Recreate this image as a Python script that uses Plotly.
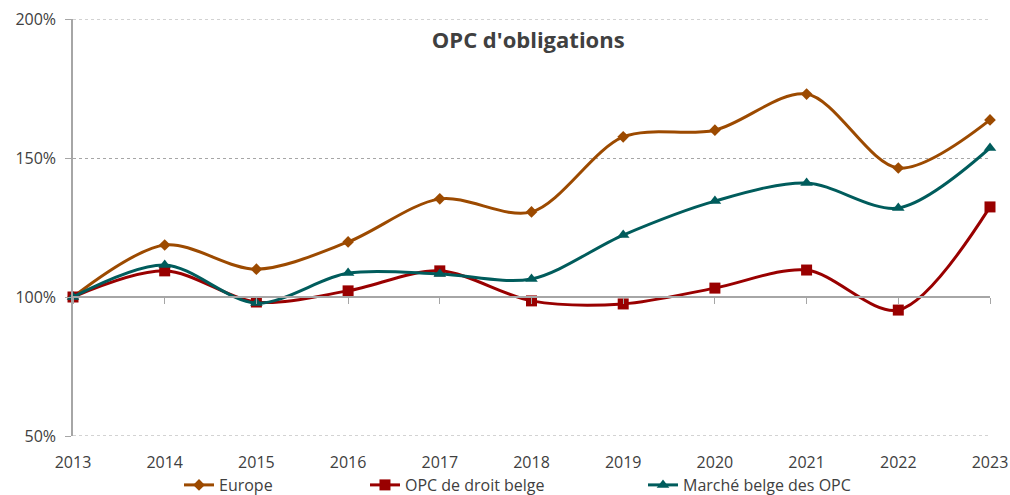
import plotly.graph_objects as go

years = [2013, 2014, 2015, 2016, 2017, 2018, 2019, 2020, 2021, 2022, 2023]
europe = [100, 118.7, 110.0, 119.8, 135.3, 130.6, 157.6, 160.0, 173.0, 146.4, 163.7]
opc_belge = [100, 109.4, 98.2, 102.2, 109.4, 98.6, 97.5, 103.2, 109.7, 95.3, 132.4]
marche_belge = [100, 111.5, 97.8, 108.6, 108.3, 106.5, 122.3, 134.5, 141.0, 132.0, 153.6]

y_ticks = [50, 100, 150, 200]
y_labels = ["50%", "100%", "150%", "200%"]

# name, values, colour, marker, marker size, legend id, legend x (paper)
series = [
    ("Europe", europe, "#9C4A00", "diamond", 9, "legend", 0.1156),
    ("OPC de droit belge", opc_belge, "#990000", "square", 11, "legend2", 0.3184),
    ("Marché belge des OPC", marche_belge, "#005C5C", "triangle-up", 11, "legend3", 0.6216),
]

font = "Open Sans, Noto Sans, sans-serif"
grid_color = "#A6A6A6"

fig = go.Figure()
legends = {}
for name, vals, color, symbol, size, leg, leg_x in series:
    fig.add_trace(
        go.Scatter(
            x=years,
            y=vals,
            name=name,
            legend=leg,
            showlegend=True,
            mode="lines+markers",
            line=dict(color=color, width=3, shape="spline", smoothing=0.9),
            marker=dict(symbol=symbol, size=size, color=color),
            cliponaxis=False,
        )
    )
    # one legend per series so the entries sit where the original puts them
    legends[leg] = dict(
        orientation="h",
        x=leg_x,
        xanchor="left",
        y=-0.1175,
        yanchor="middle",
        font=dict(size=16, color="#404040"),
        itemwidth=30,
        bgcolor="rgba(0,0,0,0)",
    )

# empty trace so the second x axis (the 100% baseline) is drawn
fig.add_trace(go.Scatter(x=[], y=[], xaxis="x2", showlegend=False, hoverinfo="skip"))

# plotly skips gridlines on the range ends, so add the top/bottom ones by hand
for yv in (y_ticks[0], y_ticks[-1]):
    fig.add_hline(y=yv, line=dict(color=grid_color, width=1, dash="dot"), layer="below")

fig.update_layout(
    width=1010,
    height=495,
    showlegend=True,
    margin=dict(l=73, r=20, t=19, b=59, autoexpand=False),
    plot_bgcolor="white",
    paper_bgcolor="white",
    font=dict(family=font, size=16, color="#404040"),
    title=dict(
        text="<b>OPC d'obligations</b>",
        x=0.523,
        xanchor="center",
        y=0.919,
        yanchor="middle",
        font=dict(size=22, color="#404040"),
    ),
    xaxis=dict(
        range=[2013, 2023],
        tickmode="array",
        tickvals=years,
        ticks="outside",
        ticklen=12,
        tickcolor="rgba(0,0,0,0)",
        ticklabeloverflow="allow",
        showline=False,
        showgrid=False,
        zeroline=False,
        automargin=False,
    ),
    xaxis2=dict(
        overlaying="x",
        anchor="free",
        position=1 / 3,
        range=[2013, 2023],
        tickmode="array",
        tickvals=years,
        ticks="outside",
        ticklen=6,
        tickcolor=grid_color,
        showticklabels=False,
        showline=True,
        linecolor=grid_color,
        linewidth=1.5,
        showgrid=False,
        zeroline=False,
    ),
    yaxis=dict(
        range=[50, 200],
        tickmode="array",
        tickvals=y_ticks,
        ticktext=y_labels,
        ticks="outside",
        ticklen=6,
        tickcolor=grid_color,
        ticklabelstandoff=6,
        showline=True,
        linecolor=grid_color,
        linewidth=1.5,
        showgrid=True,
        gridcolor=grid_color,
        griddash="dot",
        gridwidth=1,
        zeroline=False,
        automargin=False,
    ),
    **legends,
)

# drop the browser's default 8px body margin so the figure fills the window
fig.write_html(
    "out.html",
    config={"displayModeBar": False},
    post_script="document.body.style.margin = '0';",
)
